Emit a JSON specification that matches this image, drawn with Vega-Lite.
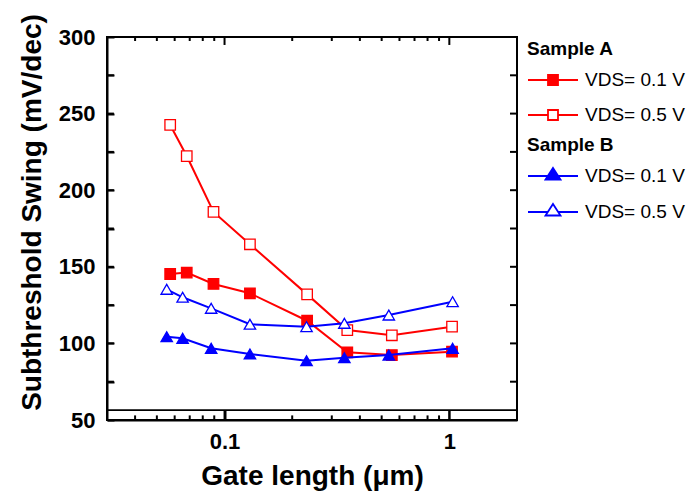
{
  "$schema": "https://vega.github.io/schema/vega-lite/v6.json",
  "width": 410,
  "height": 383,
  "autosize": "none",
  "padding": {"left": 107, "top": 37, "right": 171, "bottom": 78},
  "background": "white",
  "config": {
    "font": "Liberation Sans",
    "view": {"stroke": "black", "strokeWidth": 2},
    "axis": {
      "labelFont": "Liberation Sans", "labelFontWeight": "bold", "labelFontSize": 22, "labelColor": "black",
      "titleFont": "Liberation Sans", "titleFontWeight": "bold", "titleFontSize": 28, "titleColor": "black",
      "grid": false, "domain": true, "domainColor": "black", "domainWidth": 2, "ticks": true, "tickColor": "black", "tickWidth": 2
    },
    "legend": {
      "titleFont": "Liberation Sans", "titleFontWeight": "bold", "titleFontSize": 19, "titleColor": "black",
      "labelFont": "Liberation Sans", "labelFontSize": 19, "labelColor": "black"
    }
  },
  "datasets": {
    "d": [
      {"sample": "A", "vds": "VDS= 0.1 V", "L": 0.0573, "ss": 145.3},
      {"sample": "A", "vds": "VDS= 0.1 V", "L": 0.0679, "ss": 146.2},
      {"sample": "A", "vds": "VDS= 0.1 V", "L": 0.0893, "ss": 138.8},
      {"sample": "A", "vds": "VDS= 0.1 V", "L": 0.1297, "ss": 132.7},
      {"sample": "A", "vds": "VDS= 0.1 V", "L": 0.233, "ss": 114.8},
      {"sample": "A", "vds": "VDS= 0.1 V", "L": 0.3516, "ss": 94.2},
      {"sample": "A", "vds": "VDS= 0.1 V", "L": 0.555, "ss": 92.4},
      {"sample": "A", "vds": "VDS= 0.1 V", "L": 1.028, "ss": 94.6},
      {"sample": "A", "vds": "VDS= 0.5 V", "L": 0.0573, "ss": 242.6},
      {"sample": "A", "vds": "VDS= 0.5 V", "L": 0.0679, "ss": 222.3},
      {"sample": "A", "vds": "VDS= 0.5 V", "L": 0.0893, "ss": 185.8},
      {"sample": "A", "vds": "VDS= 0.5 V", "L": 0.1297, "ss": 164.7},
      {"sample": "A", "vds": "VDS= 0.5 V", "L": 0.233, "ss": 132.0},
      {"sample": "A", "vds": "VDS= 0.5 V", "L": 0.3516, "ss": 108.7},
      {"sample": "A", "vds": "VDS= 0.5 V", "L": 0.555, "ss": 105.3},
      {"sample": "A", "vds": "VDS= 0.5 V", "L": 1.028, "ss": 110.9},
      {"sample": "B", "vds": "VDS= 0.1 V", "L": 0.0553, "ss": 104.4},
      {"sample": "B", "vds": "VDS= 0.1 V", "L": 0.0651, "ss": 103.3},
      {"sample": "B", "vds": "VDS= 0.1 V", "L": 0.0872, "ss": 96.8},
      {"sample": "B", "vds": "VDS= 0.1 V", "L": 0.1297, "ss": 93.1},
      {"sample": "B", "vds": "VDS= 0.1 V", "L": 0.2316, "ss": 88.7},
      {"sample": "B", "vds": "VDS= 0.1 V", "L": 0.3412, "ss": 90.7},
      {"sample": "B", "vds": "VDS= 0.1 V", "L": 0.538, "ss": 92.4},
      {"sample": "B", "vds": "VDS= 0.1 V", "L": 1.034, "ss": 96.8},
      {"sample": "B", "vds": "VDS= 0.5 V", "L": 0.0553, "ss": 135.3},
      {"sample": "B", "vds": "VDS= 0.5 V", "L": 0.0651, "ss": 130.1},
      {"sample": "B", "vds": "VDS= 0.5 V", "L": 0.0872, "ss": 122.9},
      {"sample": "B", "vds": "VDS= 0.5 V", "L": 0.1297, "ss": 112.5},
      {"sample": "B", "vds": "VDS= 0.5 V", "L": 0.2316, "ss": 110.9},
      {"sample": "B", "vds": "VDS= 0.5 V", "L": 0.3412, "ss": 113.1},
      {"sample": "B", "vds": "VDS= 0.5 V", "L": 0.538, "ss": 118.5},
      {"sample": "B", "vds": "VDS= 0.5 V", "L": 1.034, "ss": 127.2}
    ],
    "xt": [
      {"v": 0.04, "kind": "minor"}, {"v": 0.05, "kind": "minor"}, {"v": 0.06, "kind": "minor"},
      {"v": 0.07, "kind": "minor"}, {"v": 0.08, "kind": "minor"}, {"v": 0.09, "kind": "minor"},
      {"v": 0.1, "kind": "major"},
      {"v": 0.2, "kind": "minor"}, {"v": 0.3, "kind": "minor"}, {"v": 0.4, "kind": "minor"},
      {"v": 0.5, "kind": "minor"}, {"v": 0.6, "kind": "minor"}, {"v": 0.7, "kind": "minor"},
      {"v": 0.8, "kind": "minor"}, {"v": 0.9, "kind": "minor"},
      {"v": 1, "kind": "major"}
    ],
    "yt": [
      {"v": 75}, {"v": 100}, {"v": 125}, {"v": 150}, {"v": 175}, {"v": 200}, {"v": 225}, {"v": 250}, {"v": 275}
    ]
  },
  "data": {"name": "d"},
  "resolve": {
    "scale": {"color": "independent", "fill": "independent"},
    "legend": {"color": "independent", "fill": "independent"},
    "axis": {"x": "independent", "y": "independent"}
  },
  "layer": [
    {
      "data": {"values": [{"y": 56.5}]},
      "mark": {"type": "rule", "color": "black", "strokeWidth": 1.8},
      "encoding": {
        "y": {"field": "y", "type": "quantitative", "scale": {"domain": [50, 300], "nice": false, "zero": false}, "axis": null}
      }
    },
    {
      "data": {"name": "xt"},
      "transform": [{"filter": "datum.kind == 'major'"}],
      "mark": {"type": "rule", "color": "black", "strokeWidth": 2},
      "encoding": {
        "x": {"field": "v", "type": "quantitative", "scale": {"type": "log", "domain": [0.03, 2], "nice": false}, "axis": null},
        "y": {"datum": 50, "type": "quantitative", "scale": {"domain": [50, 300], "nice": false, "zero": false}, "axis": null},
        "y2": {"datum": 56.5}
      }
    },
    {
      "data": {"name": "xt"},
      "transform": [{"filter": "datum.kind == 'minor'"}],
      "mark": {"type": "rule", "color": "black", "strokeWidth": 2},
      "encoding": {
        "x": {"field": "v", "type": "quantitative", "scale": {"type": "log", "domain": [0.03, 2], "nice": false}, "axis": null},
        "y": {"datum": 50, "type": "quantitative", "scale": {"domain": [50, 300], "nice": false, "zero": false}, "axis": null},
        "y2": {"datum": 53}
      }
    },
    {
      "data": {"name": "xt"},
      "transform": [{"filter": "datum.kind == 'major'"}],
      "mark": {"type": "rule", "color": "black", "strokeWidth": 2},
      "encoding": {
        "x": {"field": "v", "type": "quantitative", "scale": {"type": "log", "domain": [0.03, 2], "nice": false}, "axis": null},
        "y": {"datum": 300, "type": "quantitative", "scale": {"domain": [50, 300], "nice": false, "zero": false}, "axis": null},
        "y2": {"datum": 294.8}
      }
    },
    {
      "data": {"name": "xt"},
      "transform": [{"filter": "datum.kind == 'minor'"}],
      "mark": {"type": "rule", "color": "black", "strokeWidth": 2},
      "encoding": {
        "x": {"field": "v", "type": "quantitative", "scale": {"type": "log", "domain": [0.03, 2], "nice": false}, "axis": null},
        "y": {"datum": 300, "type": "quantitative", "scale": {"domain": [50, 300], "nice": false, "zero": false}, "axis": null},
        "y2": {"datum": 297.4}
      }
    },
    {
      "data": {"name": "yt"},
      "mark": {"type": "rule", "color": "black", "strokeWidth": 2},
      "encoding": {
        "y": {"field": "v", "type": "quantitative", "scale": {"domain": [50, 300], "nice": false, "zero": false}, "axis": null},
        "x": {"datum": 0.03, "type": "quantitative", "scale": {"type": "log", "domain": [0.03, 2], "nice": false}, "axis": null},
        "x2": {"datum": 0.0322}
      }
    },
    {
      "data": {"name": "yt"},
      "mark": {"type": "rule", "color": "black", "strokeWidth": 2},
      "encoding": {
        "y": {"field": "v", "type": "quantitative", "scale": {"domain": [50, 300], "nice": false, "zero": false}, "axis": null},
        "x": {"datum": 2, "type": "quantitative", "scale": {"type": "log", "domain": [0.03, 2], "nice": false}, "axis": null},
        "x2": {"datum": 1.862}
      }
    },
    {
      "transform": [{"filter": "datum.sample == 'A'"}],
      "mark": {"type": "line", "color": "#ff0000", "strokeWidth": 2},
      "encoding": {
        "x": {"field": "L", "type": "quantitative", "scale": {"type": "log", "domain": [0.03, 2], "nice": false},
              "axis": {"orient": "bottom", "values": [0.1, 1], "format": "~g", "tickSize": -10, "labelPadding": 21, "title": "Gate length (μm)", "titlePadding": 10}},
        "y": {"field": "ss", "type": "quantitative", "scale": {"domain": [50, 300], "nice": false, "zero": false},
              "axis": {"orient": "left", "values": [50, 75, 100, 125, 150, 175, 200, 225, 250, 275, 300], "labelExpr": "datum.value % 50 == 0 ? datum.label : ''", "tickSize": -7, "labelPadding": 19, "title": "Subthreshold Swing (mV/dec)", "titlePadding": 12, "titleY": 175}},
        "detail": {"field": "vds"}
      }
    },
    {
      "transform": [{"filter": "datum.sample == 'A'"}],
      "mark": {"type": "point", "shape": "square", "size": 110, "filled": false, "strokeWidth": 1.3, "opacity": 1},
      "encoding": {
        "x": {"field": "L", "type": "quantitative", "scale": {"type": "log", "domain": [0.03, 2], "nice": false}, "axis": null},
        "y": {"field": "ss", "type": "quantitative", "scale": {"domain": [50, 300], "nice": false, "zero": false}, "axis": null},
        "color": {"field": "vds", "type": "nominal", "scale": {"domain": ["VDS= 0.1 V", "VDS= 0.5 V"], "range": ["#ff0000", "#ff0000"]},
                  "legend": {"title": "Sample A", "orient": "none", "legendX": 420, "legendY": 3, "symbolType": "M-2.5,0H-0.5M0.5,0H2.5M-0.5,-0.5H0.5V0.5H-0.5Z", "symbolSize": 400, "symbolStrokeWidth": 1.8, "symbolOffset": 15, "labelOffset": 21, "rowPadding": 14, "titlePadding": 10}},
        "fill": {"field": "vds", "type": "nominal", "scale": {"domain": ["VDS= 0.1 V", "VDS= 0.5 V"], "range": ["#ff0000", "#ffffff"]},
                  "legend": {"title": "Sample A", "orient": "none", "legendX": 420, "legendY": 3, "symbolType": "M-2.5,0H-0.5M0.5,0H2.5M-0.5,-0.5H0.5V0.5H-0.5Z", "symbolSize": 400, "symbolStrokeWidth": 1.8, "symbolOffset": 15, "labelOffset": 21, "rowPadding": 14, "titlePadding": 10}}
      }
    },
    {
      "transform": [{"filter": "datum.sample == 'B'"}],
      "mark": {"type": "line", "color": "#0000ff", "strokeWidth": 2},
      "encoding": {
        "x": {"field": "L", "type": "quantitative", "scale": {"type": "log", "domain": [0.03, 2], "nice": false}, "axis": null},
        "y": {"field": "ss", "type": "quantitative", "scale": {"domain": [50, 300], "nice": false, "zero": false}, "axis": null},
        "detail": {"field": "vds"}
      }
    },
    {
      "transform": [{"filter": "datum.sample == 'B'"}],
      "mark": {"type": "point", "shape": "triangle-up", "size": 130, "filled": false, "strokeWidth": 1.3, "opacity": 1},
      "encoding": {
        "x": {"field": "L", "type": "quantitative", "scale": {"type": "log", "domain": [0.03, 2], "nice": false}, "axis": null},
        "y": {"field": "ss", "type": "quantitative", "scale": {"domain": [50, 300], "nice": false, "zero": false}, "axis": null},
        "color": {"field": "vds", "type": "nominal", "scale": {"domain": ["VDS= 0.1 V", "VDS= 0.5 V"], "range": ["#0000ff", "#0000ff"]},
                  "legend": {"title": "Sample B", "orient": "none", "legendX": 420, "legendY": 99, "symbolType": "M-2.5,0H-0.52M0.52,0H2.5M0,-0.8L0.75,0.35H-0.75Z", "symbolSize": 400, "symbolStrokeWidth": 1.8, "symbolOffset": 15, "labelOffset": 21, "rowPadding": 14, "titlePadding": 10}},
        "fill": {"field": "vds", "type": "nominal", "scale": {"domain": ["VDS= 0.1 V", "VDS= 0.5 V"], "range": ["#0000ff", "#ffffff"]},
                  "legend": {"title": "Sample B", "orient": "none", "legendX": 420, "legendY": 99, "symbolType": "M-2.5,0H-0.52M0.52,0H2.5M0,-0.8L0.75,0.35H-0.75Z", "symbolSize": 400, "symbolStrokeWidth": 1.8, "symbolOffset": 15, "labelOffset": 21, "rowPadding": 14, "titlePadding": 10}}
      }
    }
  ]
}
